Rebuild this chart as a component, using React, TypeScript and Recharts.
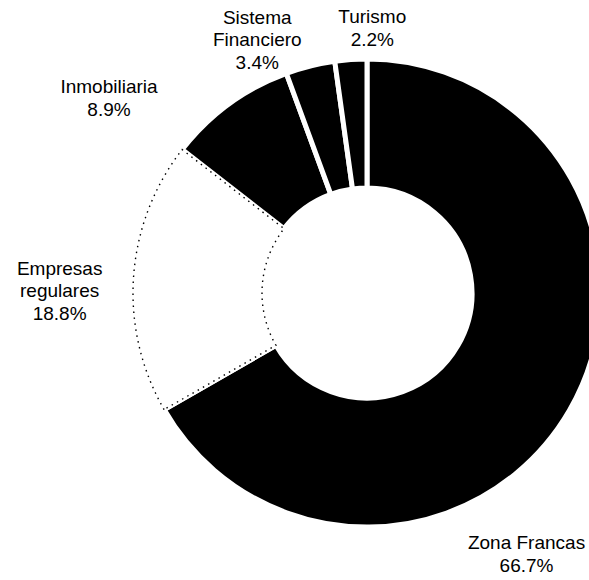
import React from "react";
import { PieChart, Pie, Cell } from "recharts";

// sectors, clockwise from 12 o'clock
const SECTORS = [
  "Zona Francas",
  "Empresas\nregulares",
  "Inmobiliaria",
  "Sistema\nFinanciero",
  "Turismo",
];
const SHARES = [66.7, 18.8, 8.9, 3.4, 2.2];

// label placement tweaks (px) relative to the default radial spot
const LABEL_NUDGE: [number, number][] = [
  [-75, 132],
  [-37, 23],
  [-98, 30],
  [-44, 16],
  [24, 12],
];

const W = 589;
const H = 580;
const CX = 367;
const CY = 293;
const OUTER = 234;
const INNER = 105;
const LABEL_GAP = 37;
const LINE_H = 22.5;
const RAD = Math.PI / 180;

const FONT = '"Liberation Sans", Arial, Helvetica, sans-serif';

const data = SECTORS.map((s, i) => ({ name: s, value: SHARES[i] }));

const renderLabel = (props: any) => {
  const { cx, cy, midAngle, outerRadius, index } = props;
  const r = outerRadius + LABEL_GAP;
  const [dx, dy] = LABEL_NUDGE[index];
  const x = cx + r * Math.cos(-midAngle * RAD) + dx;
  const y = cy + r * Math.sin(-midAngle * RAD) + dy;
  const lines = [...SECTORS[index].split("\n"), `${SHARES[index].toFixed(1)}%`];
  const top = y - ((lines.length - 1) * LINE_H) / 2;
  return (
    <text
      key={`lbl-${index}`}
      x={x}
      y={top}
      textAnchor="middle"
      fill="#000"
      fontFamily={FONT}
      fontSize={19}
    >
      {lines.map((t, i) => (
        <tspan key={i} x={x} y={top + i * LINE_H}>
          {t}
        </tspan>
      ))}
    </text>
  );
};

export default function App() {
  return (
    <div style={{ position: "absolute", left: 0, top: 0, width: W, height: H, background: "#fff" }}>
      <PieChart width={W} height={H} margin={{ top: 0, right: 0, bottom: 0, left: 0 }}>
        {/* filled slices, white gaps between them */}
        <Pie
          data={data}
          dataKey="value"
          nameKey="name"
          cx={CX}
          cy={CY}
          innerRadius={INNER}
          outerRadius={OUTER}
          startAngle={90}
          endAngle={-270}
          label={renderLabel}
          labelLine={false}
          isAnimationActive={false}
        >
          {data.map((d, i) => (
            <Cell
              key={d.name}
              fill={i === 1 ? "#fff" : "#000"}
              stroke="#fff"
              strokeWidth={5}
            />
          ))}
        </Pie>
        {/* dotted outline of the white slice */}
        <Pie
          data={data}
          dataKey="value"
          nameKey="name"
          cx={CX}
          cy={CY}
          innerRadius={INNER}
          outerRadius={OUTER}
          startAngle={90}
          endAngle={-270}
          legendType="none"
          isAnimationActive={false}
        >
          {data.map((d, i) => (
            <Cell
              key={d.name}
              fill="none"
              stroke={i === 1 ? "#000" : "none"}
              strokeWidth={1.4}
              strokeDasharray="1.5 4.5"
            />
          ))}
        </Pie>
      </PieChart>
    </div>
  );
}
